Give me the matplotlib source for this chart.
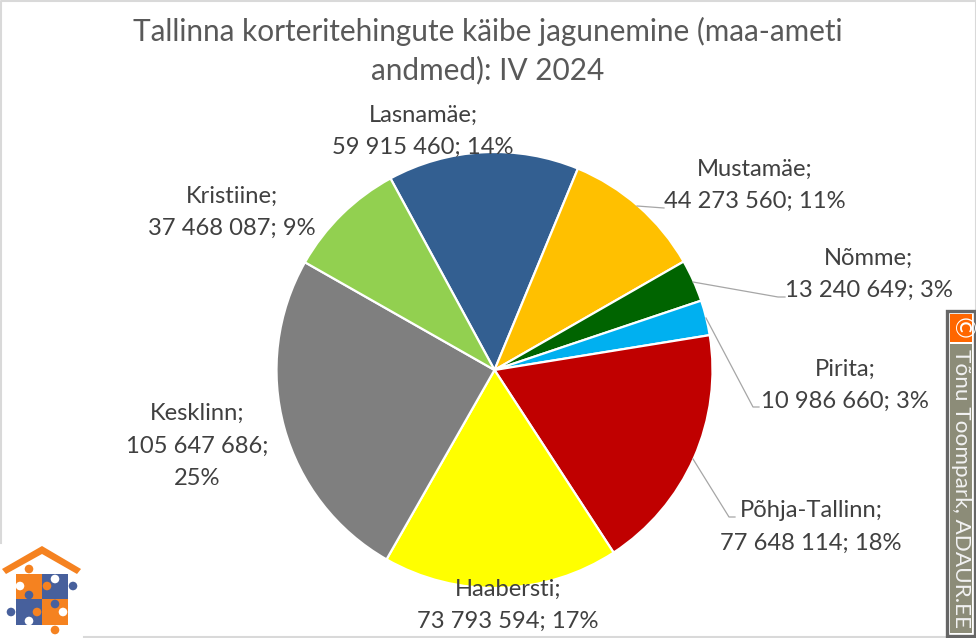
import matplotlib
matplotlib.use('Agg')
import matplotlib.pyplot as plt
from matplotlib.patches import Rectangle, Circle, Polygon

plt.rcParams['font.family'] = ['Lato', 'DejaVu Sans']

names = ['Lasnamäe', 'Mustamäe', 'Nõmme', 'Pirita', 'Põhja-Tallinn', 'Haabersti', 'Kesklinn', 'Kristiine']
values = [59915460, 44273560, 13240649, 10986660, 77648114, 73793594, 105647686, 37468087]
percents = [14, 11, 3, 3, 18, 17, 25, 9]
colors = ['#335F91', '#FFC000', '#006400', '#00B0F0', '#C00000', '#FFFF00', '#7F7F7F', '#92D050']
title = 'Tallinna korteritehingute käibe jagunemine (maa-ameti\nandmed): IV 2024'

# label centres in pixels of the picture
label_x = [423, 755, 869, 845, 811, 508, 197, 232]
label_y = [131, 185, 274, 385, 527, 605, 446, 212]
wrap_value = [False, False, False, False, False, False, True, False]

# leader lines, pixels
leaders = [
    [(637, 206), (664, 208)],
    [(693, 282), (778, 297), (785, 297)],
    [(706, 318), (753, 407), (759, 407)],
    [(693, 459), (729, 517), (735, 517)],
]

W, H = 976, 638
fig = plt.figure(figsize=(W/100, H/100), dpi=100)
ax = fig.add_axes([0, 0, 1, 1])

ax.pie(values, colors=colors, startangle=118.5, counterclock=False,
       center=(494.5, H-370), radius=218, frame=True,
       wedgeprops={'edgecolor': 'white', 'linewidth': 1.6})
ax.set_xlim(0, W)
ax.set_ylim(0, H)
ax.axis('off')

# chart border
ax.plot([0.7, 0.7, W, W], [H-543, H-0.7, H-0.7, H-311], color='#D9D9D9', lw=1.5, zorder=1)
ax.plot([84, 946], [H-636.5, H-636.5], color='#D9D9D9', lw=1.5, zorder=1)

ax.text(488, H-51, title, ha='center', va='center', fontsize=21.4, color='#595959', linespacing=1.42)

for i in range(len(names)):
    val = f'{values[i]:,}'.replace(',', ' ')
    pct = f'{percents[i]}%'
    if wrap_value[i]:
        s = f'{names[i]};\n{val};\n{pct}'
    else:
        s = f'{names[i]};\n{val}; {pct}'
    ax.text(label_x[i], H-label_y[i], s, ha='center', va='center', fontsize=17.1,
            color='#404040', linespacing=1.66, zorder=5)

for pts in leaders:
    ax.plot([p[0] for p in pts], [H-p[1] for p in pts], color='#A6A6A6', lw=0.9, zorder=4)

# copyright stamp
ax.add_patch(Rectangle((947, H-636), 28, 325, fc='white', ec='#666666', lw=2.4, zorder=6))
ax.add_patch(Rectangle((950, H-342), 22, 28, fc='#FF6600', ec='none', zorder=7))
ax.add_patch(Rectangle((950, H-633), 22, 289, fc='#8C8C78', ec='none', zorder=7))
ax.text(961, H-328, '©', rotation=270, ha='center', va='center', color='white', fontsize=19, zorder=8)
ax.text(961, H-489, 'Tõnu Toompark, ADAUR.EE', rotation=270, ha='center', va='center',
        color='#F2F2F2', fontsize=16.2, zorder=8)

# logo
orange, blue = '#F58220', '#47609C'
ax.add_patch(Polygon([(2, H-569), (42, H-546), (81, H-569), (77, H-574), (42, H-554), (6, H-574)],
                     fc=orange, ec='none', zorder=2))
ax.add_patch(Rectangle((16, H-599), 26, 25, fc=orange, ec='none', zorder=2))
ax.add_patch(Rectangle((42, H-599), 26, 25, fc=blue, ec='none', zorder=2))
ax.add_patch(Rectangle((16, H-625), 26, 26, fc=blue, ec='none', zorder=2))
ax.add_patch(Rectangle((42, H-625), 26, 26, fc=orange, ec='none', zorder=2))
for cx, cy, col in [(29, 569, orange), (73, 586, blue), (29, 595, blue), (11, 612, blue),
                    (55, 630, orange), (47, 586, orange), (55, 604, blue), (37, 612, orange),
                    (55, 579, 'white'), (20, 586, 'white'), (63, 612, 'white'), (29, 621, 'white')]:
    ax.add_patch(Circle((cx, H-cy), 4.3, fc=col, ec='none', zorder=3))

fig.savefig('out.png', dpi=100)
